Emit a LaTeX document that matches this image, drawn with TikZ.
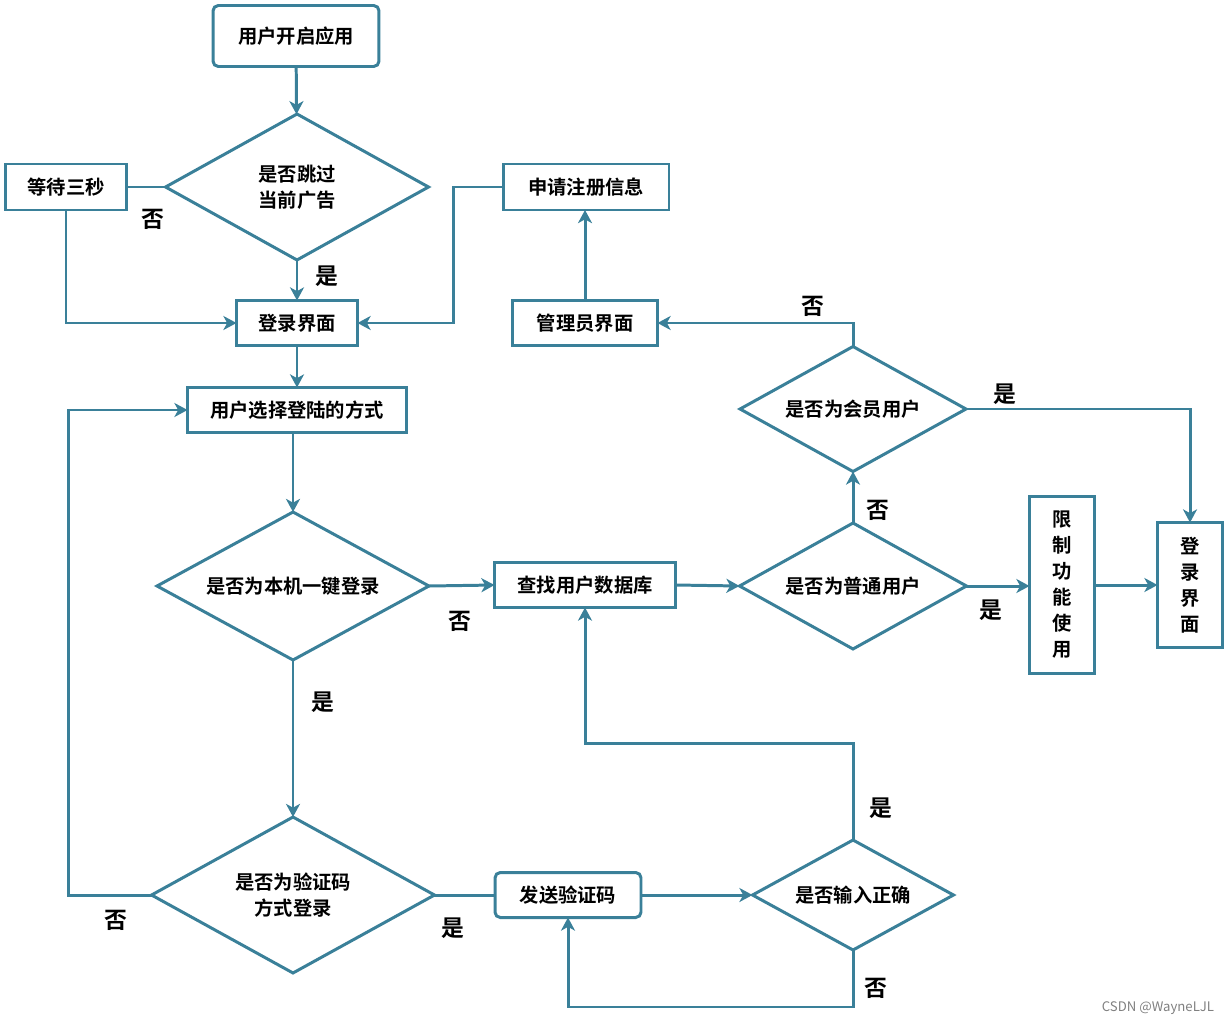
\documentclass[tikz,border=0pt]{standalone}
\usepackage{fontspec}
\newfontfamily\cjk{Noto Sans CJK SC}[BoldFont={Noto Sans CJK SC Bold}]
\usetikzlibrary{shapes.geometric,arrows.meta}
\definecolor{flow}{RGB}{58,128,153}
\tikzset{
  base/.style={draw=flow, line width=1.7pt, font=\cjk\bfseries\fontsize{11pt}{14.8pt}\selectfont, align=center, inner sep=0pt, outer sep=0pt, fill=white},
  box/.style={base, rectangle},
  rbox/.style={base, rectangle, rounded corners=3pt},
  dia/.style={base, diamond, aspect=1.8},
  arr/.style={draw=flow, line width=1.7pt, -{Stealth[length=7.5pt,width=8pt,inset=2.2pt]}},
  ln/.style={draw=flow, line width=1.7pt},
  lab/.style={font=\cjk\bfseries\fontsize{13pt}{14pt}\selectfont, inner sep=0pt}
}
\begin{document}
\begin{tikzpicture}[x=0.02cm,y=-0.02cm]
\useasboundingbox (0,0) rectangle (1229,1024);
% nodes
\node[rbox, minimum width=3.32cm, minimum height=1.22cm] (start) at (296,36) {用户开启应用};
\node[dia, minimum width=5.26cm, minimum height=2.92cm] (skip) at (297,187) {是否跳过\\当前广告};
\node[box, minimum width=2.42cm, minimum height=0.92cm] (wait) at (66,187) {等待三秒};
\node[box, minimum width=2.42cm, minimum height=0.9cm] (login) at (297,323) {登录界面};
\node[box, minimum width=3.32cm, minimum height=0.92cm] (apply) at (586,187) {申请注册信息};
\node[box, minimum width=2.9cm, minimum height=0.9cm] (admin) at (585,323) {管理员界面};
\node[box, minimum width=4.38cm, minimum height=0.9cm] (choose) at (297,410) {用户选择登陆的方式};
\node[dia, minimum width=5.44cm, minimum height=2.96cm] (onekey) at (293,586) {是否为本机一键登录};
\node[box, minimum width=3.62cm, minimum height=0.9cm] (query) at (585,585) {查找用户数据库};
\node[dia, minimum width=4.54cm, minimum height=2.52cm] (normal) at (853,586) {是否为普通用户};
\node[dia, minimum width=4.52cm, minimum height=2.5cm] (member) at (853,409) {是否为会员用户};
\node[box, minimum width=1.3cm, minimum height=3.54cm] (limit) at (1062,585) {限\\制\\功\\能\\使\\用};
\node[box, minimum width=1.3cm, minimum height=2.5cm] (login2) at (1190,585) {登\\录\\界\\面};
\node[dia, minimum width=5.66cm, minimum height=3.12cm] (code) at (293,895) {是否为验证码\\方式登录};
\node[rbox, minimum width=2.92cm, minimum height=0.9cm] (send) at (568,895) {发送验证码};
\node[dia, minimum width=4.02cm, minimum height=2.2cm] (correct) at (853,895) {是否输入正确};
% connectors
\draw[arr] (start) -- (skip);
\draw[ln] (skip.west) -- (wait.east);
\draw[arr] (wait.south) |- (login.west);
\draw[arr] (skip.south) -- (login.north);
\draw[arr] (apply.west) -- ++(-50,0) |- (login.east);
\draw[arr] (admin.north) -- (admin.north |- apply.south);
\draw[arr] (member.north) |- (admin.east);
\draw[arr] (member.east) -| (login2.north);
\draw[arr] (normal.north) -- (member.south);
\draw[arr] (normal.east) -- (limit.west |- normal.east);
\draw[arr] (limit.east |- login2.west) -- (login2.west);
\draw[arr] (query.east) -- (normal.west);
\draw[arr] (onekey.east) -- (query.west);
\draw[arr] (login.south) -- (choose.north);
\draw[arr] (choose.south -| onekey.north) -- (onekey.north);
\draw[arr] (onekey.south) -- (code.north);
\draw[arr] (code.west) -- ++(-83,0) |- (choose.west);
\draw[ln] (code.east) -- (send.west);
\draw[arr] (send.east) -- (correct.west);
\draw[arr] (correct.north) -- ++(0,-97) -| (query.south);
\draw[arr] (correct.south) -- ++(0,57) -| (send.south);
% labels
\node[lab] (l1) at (153,219) {否};
\node[lab] (l2) at (327,276) {是};
\node[lab] (l3) at (813,306) {否};
\node[lab] (l4) at (1005,394) {是};
\node[lab] (l5) at (878,510) {否};
\node[lab] (l6) at (991,610) {是};
\node[lab] (l7) at (460,621) {否};
\node[lab] (l8) at (323,702) {是};
\node[lab] (l9) at (116,920) {否};
\node[lab] (l10) at (453,928) {是};
\node[lab] (l11) at (881,808) {是};
\node[lab] (l12) at (876,988) {否};
\node[font=\cjk\fontsize{7.5pt}{9pt}\selectfont, text=gray, inner sep=0pt] (wm) at (1158,1008) {CSDN @WayneLJL};
\end{tikzpicture}
\end{document}
